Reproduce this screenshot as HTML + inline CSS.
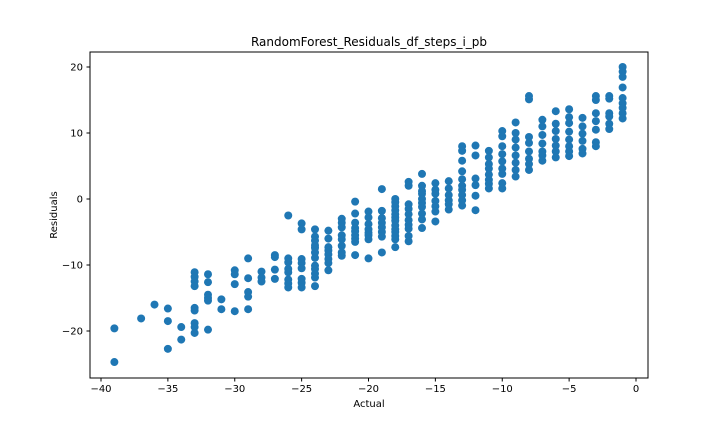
<!DOCTYPE html>
<html><head><meta charset="utf-8"><style>
body{margin:0;background:#fff;}
svg text{font-family:"DejaVu Sans","Liberation Sans",sans-serif;fill:#000;}
</style></head><body>
<svg id="chart" width="720" height="432" xmlns="http://www.w3.org/2000/svg">
<rect width="720" height="432" fill="#fff"/>
<text x="369" y="46" font-size="12" text-anchor="middle">RandomForest_Residuals_df_steps_i_pb</text>
<g id="pts"></g>
<rect x="90" y="52" width="558" height="326" fill="none" stroke="#000" stroke-width="1"/>
<g id="xt"></g>
<g id="yt"></g>
<text x="369" y="407" font-size="10" text-anchor="middle">Actual</text>
<text transform="translate(57,215) rotate(-90)" font-size="10" text-anchor="middle">Residuals</text>
</svg>
<script>
const xCats = [-39,-37,-36,-35,-34,-33,-32,-31,-30,-29,-28,-27,-26,-25,-24,-23,-22,-21,-20,-19,-18,-17,-16,-15,-14,-13,-12,-11,-10,-9,-8,-7,-6,-5,-4,-3,-2,-1];
const residuals = [
[-19.6,-24.7],[-18.1],[-16],[-16.6,-18.5,-22.7],[-19.4,-21.3],
[-11.1,-11.8,-12.5,-13.2,-16.5,-16.9,-18.8,-19.4,-20.3],
[-11.4,-12.6,-14.5,-15.0,-15.4,-19.8],[-15.2,-16.7],[-10.8,-11.4,-12.9,-17.0],
[-9.0,-12.0,-14.1,-14.8,-16.7],[-11.0,-11.9,-12.5],[-8.5,-8.8,-10.7,-12.1],
[-2.5,-9.0,-9.6,-10.6,-11.1,-12.2,-12.8,-13.4],
[-3.7,-4.6,-9.1,-9.7,-10.5,-12.1,-12.7,-13.4],
[-4.6,-5.7,-6.3,-7.0,-7.4,-8.1,-8.9,-10.1,-10.6,-11.3,-11.9,-13.2],
[-4.8,-6.0,-7.3,-7.8,-8.4,-9.1,-9.7,-10.8],
[-3.0,-3.6,-4.3,-5.5,-6.1,-7.1,-8.1,-8.6],
[-0.4,-2.2,-3.6,-4.4,-4.9,-5.5,-6.0,-6.5,-8.5],
[-1.9,-2.8,-3.8,-4.6,-5.1,-5.5,-6.1,-9.0],
[1.5,-1.8,-2.9,-3.6,-4.3,-5.0,-5.7,-8.1],
[0,-0.5,-1.1,-1.7,-2.3,-2.8,-3.3,-4.0,-4.6,-5.0,-5.6,-6.1,-7.3],
[2.6,2.0,-0.8,-1.5,-2.3,-3.2,-3.9,-4.5,-5.6,-6.4],
[3.8,2.0,1.2,0.8,0,-0.6,-1.2,-2.2,-3.1,-4.4],
[2.4,1.4,0.8,-0.3,-1.1,-1.9,-3.4],
[2.7,1.6,0.6,-0.2,-0.8,-1.6],
[8.0,7.3,5.8,4.2,3.0,2.0,1.4,0.6,-0.2,-1.0],
[8.1,6.6,3.1,2.1,0.5,-1.7],
[7.3,6.3,5.3,4.6,3.7,2.9,2.3,1.6],
[10.3,9.5,8.0,6.8,5.7,4.6,3.8,2.4,1.6],
[11.6,10.0,9.0,7.8,6.6,5.5,4.4,3.4],
[15.6,15.1,9.4,8.5,7.2,6.1,5.3,4.4],
[12.0,11.0,9.7,8.4,7.2,6.6,5.8],
[13.3,11.4,10.3,9.1,8.1,7.2,6.3],
[13.6,12.4,11.5,10.2,9.0,8.0,7.2,6.5],
[12.3,11.0,9.9,8.8,7.6,6.9],
[15.6,15.0,13.0,11.8,10.5,8.6,8.0],
[15.6,15.2,13.0,12.5,11.4,10.6],
[20.0,19.3,18.5,16.9,15.3,14.5,13.8,13.0,12.2]
];
const xTicks = [-40,-35,-30,-25,-20,-15,-10,-5,0];
const yTicks = [-20,-10,0,10,20];
const NS='http://www.w3.org/2000/svg';
const xs = v => 636 + v*13.375;
const ys = v => 199 - v*6.6;
const pts = document.getElementById('pts');
xCats.forEach((x,i)=>{
  residuals[i].forEach(r=>{
    const c=document.createElementNS(NS,'circle');
    
    
    c.setAttribute('cx',xs(x)); c.setAttribute('cy',ys(r)); c.setAttribute('r',4);
    c.setAttribute('fill','#1f77b4');
    pts.appendChild(c);
  });
});
const xt=document.getElementById('xt');
xTicks.forEach(t=>{
  const l=document.createElementNS(NS,'line');
  
  
  l.setAttribute('x1',xs(t));l.setAttribute('x2',xs(t));l.setAttribute('y1',378);l.setAttribute('y2',381.5);l.setAttribute('stroke','#000');
  xt.appendChild(l);
  const tx=document.createElementNS(NS,'text');
  
  
  tx.setAttribute('x',xs(t));tx.setAttribute('y',392);tx.setAttribute('font-size','10');tx.setAttribute('text-anchor','middle');
  tx.textContent=(t<0?'\u2212'+(-t):t);
  xt.appendChild(tx);
});
const yt=document.getElementById('yt');
yTicks.forEach(t=>{
  const l=document.createElementNS(NS,'line');
  
  
  l.setAttribute('x1',86.5);l.setAttribute('x2',90);l.setAttribute('y1',ys(t));l.setAttribute('y2',ys(t));l.setAttribute('stroke','#000');
  yt.appendChild(l);
  const tx=document.createElementNS(NS,'text');
  
  
  tx.setAttribute('x',83);tx.setAttribute('y',ys(t)+3.5);tx.setAttribute('font-size','10');tx.setAttribute('text-anchor','end');
  tx.textContent=(t<0?'\u2212'+(-t):t);
  yt.appendChild(tx);
});
</script>
</body></html>
